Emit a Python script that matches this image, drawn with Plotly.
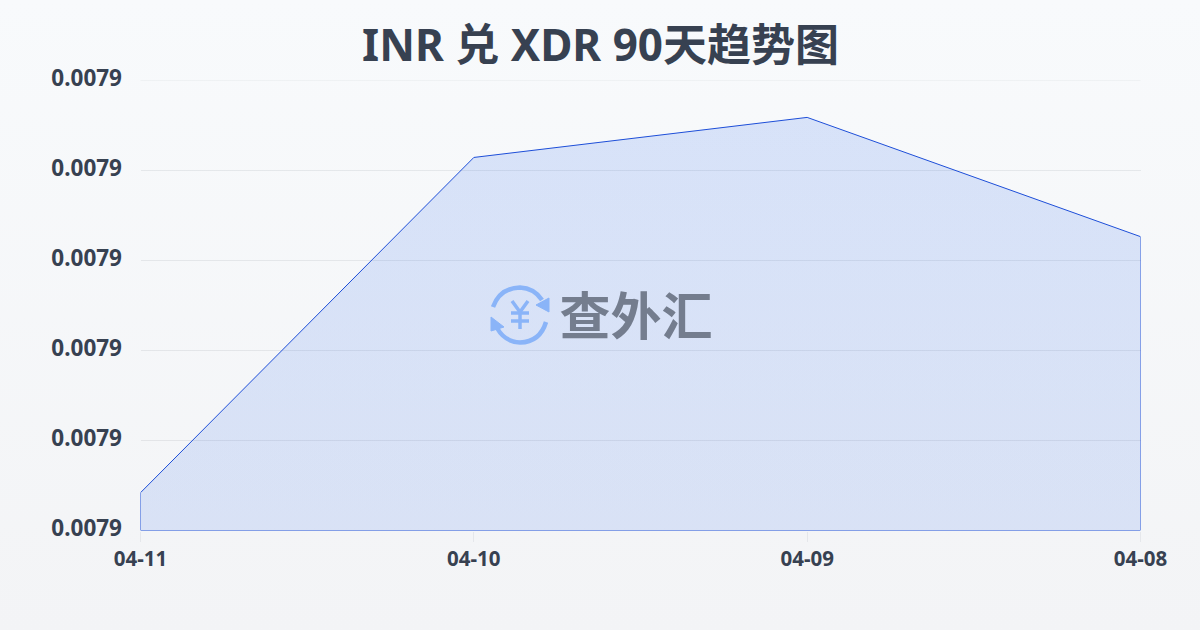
import plotly.graph_objects as go

dates = ["04-11", "04-10", "04-09", "04-08"]
rates = [0.00790084, 0.00790829, 0.00790918, 0.00790653]
axis_min = 0.00790
axis_max = 0.00791
tick_step = 0.000002
title_text = "INR 兑 XDR 90天趋势图"
brand_text = "查外汇"

W, H = 1200, 630
L, R, T, B = 140, 60, 80, 100
FONT = "Noto Sans CJK SC"
LATIN = "Noto Sans, Noto Sans CJK SC"
INK = "#374151"
GRID = "rgba(55,65,81,0.09)"


def px(x):
    return (x - L) / (W - L - R)


def py(y):
    return 1 - (y - T) / (H - T - B)


def pth(*parts):
    out = []
    for p in parts:
        if isinstance(p, str):
            out.append(p)
        else:
            out.append(f"{px(p[0]):.5f},{py(p[1]):.5f}")
    return " ".join(out)


fig = go.Figure()
fig.add_trace(go.Scatter(
    x=dates + [dates[-1], dates[0], dates[0]],
    y=rates + [axis_min, axis_min, rates[0]],
    mode="lines",
    line=dict(color="#1d4ed8", width=1),
    fill="toself",
    fillgradient=dict(
        type="vertical",
        colorscale=[[0, "rgba(37,99,235,0.13)"], [1, "rgba(37,99,235,0.15)"]],
    ),
    hoverinfo="skip",
    showlegend=False,
    cliponaxis=False,
))

ICON = "#8ab4f8"
shapes = [dict(type="line", xref="paper", x0=0, x1=1, yref="y", y0=axis_max, y1=axis_max,
               line=dict(color=GRID, width=1), layer="below")]
arc_style = dict(type="path", xref="paper", yref="paper", line=dict(color=ICON, width=4.5), layer="above")
shapes.append(dict(path=pth("M", (492.5, 306.5), "Q", (499.5, 287.5), (519.5, 287), "Q", (533.5, 287.5), (541.5, 299.5)), **arc_style))
shapes.append(dict(path=pth("M", (545.5, 321.5), "Q", (539.5, 341.5), (519.5, 342), "Q", (504.5, 341.5), (496.5, 327.5)), **arc_style))
head = dict(type="path", xref="paper", yref="paper", fillcolor=ICON, line=dict(color=ICON, width=1), layer="above")
shapes.append(dict(path=pth("M", (548.5, 297.5), "L", (548.5, 311.5), "L", (535.5, 304.5), "Z"), **head))
shapes.append(dict(path=pth("M", (490.5, 316.5), "L", (490.5, 330.5), "L", (503.5, 326.5), "Z"), **head))
yen = dict(type="path", xref="paper", yref="paper", line=dict(color=ICON, width=3.5), layer="above")
shapes.append(dict(path=pth("M", (511.5, 300.5), "L", (519.5, 311.5), "L", (527.5, 300.5)), **yen))
shapes.append(dict(path=pth("M", (510.5, 312.5), "L", (528.5, 312.5)), **yen))
shapes.append(dict(path=pth("M", (510.5, 320.5), "L", (528.5, 320.5)), **yen))
shapes.append(dict(path=pth("M", (519.5, 311.5), "L", (519.5, 328.5)), **yen))

annotations = [
    dict(text=f"<b>{brand_text}</b>", x=px(635.5), y=py(311.5), xref="paper", yref="paper", showarrow=False,
         font=dict(family=FONT, size=51, color="#747d8e"), xanchor="center", yanchor="middle"),
]

fig.update_layout(
    width=W, height=H,
    autosize=False,
    margin=dict(l=L, r=R, t=T, b=B),
    paper_bgcolor="rgba(0,0,0,0)",
    plot_bgcolor="rgba(0,0,0,0)",
    title=dict(text=f"<b>{title_text}</b>", x=0.5, xanchor="center", y=0.928, yanchor="middle",
               font=dict(family=LATIN, size=44, color=INK)),
    shapes=shapes,
    annotations=annotations,
    xaxis=dict(
        type="category", categoryorder="array", categoryarray=dates, range=[0, 3],
        showgrid=False, zeroline=False, showline=False,
        ticks="outside", ticklen=10, tickcolor="#e5e7eb", tickwidth=1,
        tickfont=dict(family="Noto Sans", size=20.5, color=INK, weight="bold"),
    ),
    yaxis=dict(
        range=[axis_min, axis_max], tick0=axis_min, dtick=tick_step, tickformat=".4f",
        showgrid=True, gridcolor=GRID, gridwidth=1, zeroline=False, showline=False,
        ticks="outside", ticklen=10, tickcolor="rgba(0,0,0,0)", tickwidth=1,
        ticklabelstandoff=3, ticklabelshift=-2,
        tickfont=dict(family="Noto Sans", size=22.5, color=INK, weight="bold"),
    ),
)

post = """
document.documentElement.style.height='100%';
document.body.style.margin='0';
document.body.style.minHeight='630px';
document.body.style.background='linear-gradient(180deg,#f8fafc 0%,#f3f4f6 100%)';
document.querySelector('.plotly-graph-div').style.transform='translate(0.5px,0.5px)';
"""
fig.write_html("out.html", post_script=post, config={"displayModeBar": False})
